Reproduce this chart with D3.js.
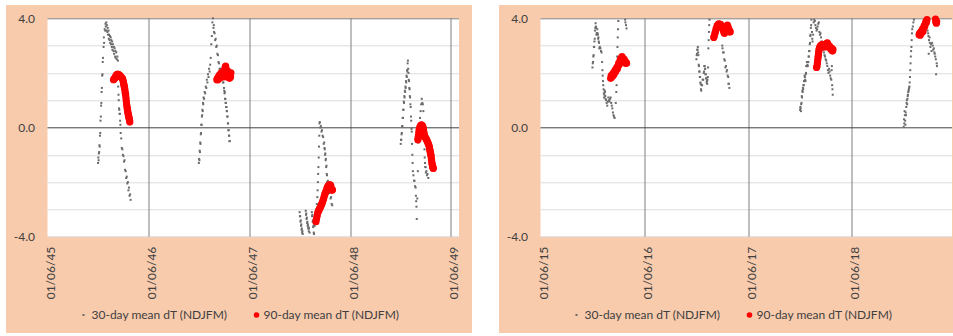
<!DOCTYPE html>
<html>
<head>
<meta charset="utf-8">
<script src="https://cdn.jsdelivr.net/npm/d3@7"></script>
<style>
  body { margin: 0; background: #fff; }
  svg text { font-family: Lato, "Open Sans", sans-serif; }
</style>
</head>
<body>
<div id="chart"></div>
<script>
// ---- data: [days after 1 Nov of the winter, dT] ----
const mean30_1945 = [[30,-1.3],[31,-1.1],[32,-1.2],[33,-0.95],[34,-0.9],[35,-0.65],[36,-0.7],[37,-0.3],[38,-0.2],[39,0.25],[40,0.4],[41,0.8],[42,0.9],[43,1.3],[44,1.45],[45,1.9],[46,1.95],[47,2.4],[48,2.55],[50,2.95],[51,3.3],[52,3.1],[54,3.6],[56,3.55],[57,3.8],[58,3.7],[60,3.85],[61,3.55],[62,3.75],[64,3.5],[65,3.65],[66,3.4],[68,3.55],[69,3.25],[70,3.4],[72,3.2],[73,3.35],[74,3.1],[76,3.3],[77,3.05],[78,3.2],[80,2.95],[81,3.15],[82,2.85],[84,3.05],[86,2.8],[87,2.95],[88,2.7],[90,2.9],[92,2.6],[93,2.8],[94,2.55],[96,2.75],[98,2.5],[100,2.6],[102,2.45],[103,1.5],[104,1.2],[105,1.0],[106,0.7],[107,0.65],[108,0.5],[109,0.5],[110,0.25],[111,0.1],[112,-0.2],[114,-0.4],[116,-0.75],[118,-0.8],[120,-1.0],[122,-1.05],[124,-1.25],[126,-1.2],[128,-1.55],[130,-1.6],[132,-1.85],[134,-1.8],[136,-2.05],[138,-2.0],[140,-2.3],[142,-2.2],[144,-2.5],[146,-2.45],[148,-2.65]];
const mean90_1945 = [[86,1.75],[88,1.78],[90,1.8],[91,1.8],[93,1.85],[95,1.9],[97,1.92],[99,1.95],[101,1.95],[103,1.95],[105,1.93],[107,1.92],[109,1.9],[111,1.88],[113,1.85],[115,1.83],[117,1.8],[119,1.78],[121,1.7],[122,1.65],[123,1.6],[124,1.55],[125,1.5],[126,1.45],[127,1.4],[128,1.3],[129,1.25],[130,1.2],[131,1.1],[132,1.0],[133,0.9],[134,0.82],[135,0.75],[136,0.68],[137,0.62],[138,0.56],[139,0.5],[140,0.45],[141,0.4],[142,0.36],[143,0.32],[144,0.26],[145,0.2]];

const mean30_1946 = [[30,-1.3],[31,-1.15],[32,-1.2],[33,-0.85],[34,-0.9],[35,-0.55],[36,-0.6],[37,-0.25],[38,-0.2],[39,0.1],[40,0.1],[41,0.4],[42,0.45],[43,0.65],[44,0.6],[45,0.9],[46,0.85],[47,1.1],[49,1.05],[51,1.3],[53,1.25],[55,1.5],[57,1.45],[59,1.75],[61,1.65],[63,1.95],[65,1.85],[67,2.15],[69,2.05],[71,2.3],[73,2.55],[75,3.05],[77,3.35],[79,3.85],[81,4.0],[83,3.65],[84,3.75],[85,3.5],[87,3.45],[89,3.2],[91,3.25],[93,2.95],[95,3.0],[97,2.7],[99,2.65],[101,2.4],[103,2.35],[105,2.15],[107,2.15],[109,1.95],[111,2.0],[113,1.85],[115,1.9],[117,1.65],[119,1.65],[121,1.45],[122,1.35],[123,1.25],[124,1.3],[125,1.05],[126,1.05],[127,0.9],[128,0.9],[129,0.75],[130,0.75],[131,0.6],[132,0.6],[133,0.4],[134,0.4],[135,0.15],[136,0.15],[137,-0.1],[138,-0.1],[139,-0.3],[140,-0.3],[141,-0.5],[142,-0.5]];
const mean90_1946 = [[95,1.75],[97,1.8],[99,1.75],[101,1.85],[103,1.9],[105,1.8],[107,1.95],[109,1.85],[111,2.0],[113,1.9],[115,1.95],[117,1.85],[119,2.05],[121,2.0],[123,2.1],[125,2.2],[127,2.25],[129,2.15],[131,2.0],[133,1.85],[135,1.95],[137,2.05],[139,1.9],[141,1.8],[143,1.95],[145,1.85],[146,2.0]];

const mean30_1947 = [[30,-3.1],[31,-3.25],[32,-3.25],[33,-3.45],[34,-3.4],[35,-3.6],[36,-3.55],[37,-3.75],[38,-3.7],[39,-3.85],[40,-3.8],[41,-3.9],[52,-3.05],[53,-3.2],[54,-3.15],[55,-3.35],[56,-3.3],[57,-3.5],[58,-3.45],[59,-3.6],[60,-3.55],[61,-3.7],[62,-3.65],[63,-3.8],[64,-3.7],[66,-3.85],[74,-3.1],[75,-3.25],[76,-3.2],[77,-3.45],[78,-3.4],[79,-3.65],[80,-3.6],[81,-3.85],[82,-3.9],[84,-3.6],[86,-3.4],[88,-3.2],[90,-3.0],[92,-2.8],[94,-2.55],[95,-2.3],[96,-2.0],[97,-1.7],[98,-1.45],[99,-1.1],[100,-0.7],[101,-0.3],[102,0.15],[103,0.2],[105,0.0],[107,0.05],[109,-0.15],[111,-0.1],[113,-0.3],[115,-0.35],[117,-0.6],[119,-0.55],[120,-0.75],[121,-0.8],[122,-1.0],[123,-0.95],[124,-1.2],[125,-1.15],[126,-1.45],[127,-1.4],[128,-1.7],[129,-1.75],[130,-2.0],[132,-1.95],[134,-2.2],[136,-2.15],[138,-2.4],[140,-2.35],[142,-2.6],[144,-2.55],[146,-2.8],[148,-2.85]];
const mean90_1947 = [[89,-3.45],[91,-3.35],[93,-3.25],[95,-3.15],[97,-3.08],[99,-3.05],[101,-3.0],[103,-2.95],[105,-2.92],[107,-2.88],[109,-2.82],[111,-2.78],[113,-2.72],[115,-2.66],[117,-2.6],[119,-2.52],[121,-2.45],[123,-2.4],[125,-2.35],[127,-2.3],[129,-2.22],[131,-2.18],[133,-2.15],[135,-2.12],[137,-2.1],[139,-2.12],[141,-2.1],[143,-2.15],[145,-2.25],[147,-2.3],[149,-2.28]];

const mean30_1948 = [[30,-0.6],[31,-0.45],[32,-0.45],[33,-0.25],[34,-0.2],[35,0.05],[36,0.05],[37,0.35],[38,0.35],[39,0.65],[40,0.65],[41,0.95],[42,0.9],[43,1.15],[44,1.1],[45,1.35],[46,1.3],[47,1.5],[48,1.45],[49,1.7],[50,1.65],[51,1.9],[52,1.85],[53,2.1],[54,2.05],[55,2.35],[56,2.45],[57,2.15],[58,2.0],[59,1.75],[60,1.7],[61,1.45],[62,1.4],[63,1.15],[64,1.1],[65,0.85],[66,0.75],[67,0.4],[68,0.25],[69,-0.05],[70,-0.15],[71,-0.6],[72,-1.0],[73,-1.3],[74,-1.6],[76,-1.75],[78,-1.95],[80,-1.95],[82,-2.15],[84,-2.2],[85,-2.5],[86,-2.7],[87,-2.9],[88,-3.35],[90,-2.6],[92,-1.6],[94,-0.55],[96,-0.2],[98,0.1],[100,0.35],[102,0.6],[104,0.85],[106,1.05],[108,0.9],[110,0.85],[112,0.6],[114,0.1],[115,-0.35],[116,-0.8],[117,-1.1],[118,-1.3],[119,-1.45],[120,-1.45],[121,-1.65],[123,-1.6],[125,-1.75],[127,-1.7],[130,-1.85]];
const mean90_1948 = [[92,-0.45],[93,-0.4],[94,-0.32],[95,-0.25],[96,-0.15],[97,-0.08],[99,0.0],[101,0.05],[103,0.08],[105,0.1],[107,0.08],[109,0.05],[111,0.0],[112,-0.05],[113,-0.12],[114,-0.2],[115,-0.25],[116,-0.3],[118,-0.35],[120,-0.38],[122,-0.42],[124,-0.46],[126,-0.5],[128,-0.55],[130,-0.6],[132,-0.65],[134,-0.72],[135,-0.8],[136,-0.85],[137,-0.9],[138,-0.95],[139,-1.0],[140,-1.05],[141,-1.15],[142,-1.22],[143,-1.3],[144,-1.35],[145,-1.4],[146,-1.45],[147,-1.48],[148,-1.5]];

const mean30_2015 = [[30,2.2],[31,2.35],[32,2.4],[33,2.6],[34,2.65],[35,2.95],[36,2.95],[37,3.15],[38,3.25],[39,3.55],[40,3.65],[41,3.82],[42,3.7],[43,3.65],[44,3.4],[45,3.45],[46,3.45],[47,3.6],[48,3.45],[49,3.4],[50,3.25],[51,3.3],[52,3.15],[53,3.1],[54,2.9],[56,2.95],[58,2.9],[60,2.8],[62,2.75],[64,2.4],[65,2.1],[66,1.9],[67,1.7],[68,1.55],[69,1.4],[70,1.25],[71,1.1],[72,1.2],[73,1.35],[74,1.3],[75,1.15],[76,1.05],[78,1.0],[80,0.9],[82,0.8],[84,0.95],[86,1.1],[88,1.0],[90,0.95],[92,1.05],[94,1.1],[96,0.9],[98,0.8],[100,0.7],[102,0.55],[104,0.45],[106,0.4],[108,0.35],[112,0.9],[114,1.3],[115,1.55],[116,2.0],[117,2.6],[118,2.95],[119,3.3],[120,3.6],[121,3.9],[145,3.95],[146,3.85],[148,3.75],[150,3.63]];
const mean90_2015 = [[94,1.8],[96,1.9],[98,1.85],[100,1.95],[102,1.9],[104,2.0],[106,1.95],[108,2.05],[110,2.1],[112,2.05],[114,2.15],[116,2.2],[118,2.15],[120,2.25],[122,2.35],[124,2.3],[126,2.4],[128,2.5],[130,2.45],[132,2.55],[134,2.6],[136,2.55],[138,2.5],[140,2.45],[142,2.5],[144,2.4],[146,2.35],[148,2.4],[150,2.35]];

const mean30_2016 = [[30,2.5],[31,2.65],[32,2.7],[33,2.85],[34,2.85],[35,2.95],[36,2.75],[37,2.65],[38,2.3],[39,2.25],[40,2.05],[41,2.05],[42,1.85],[43,1.85],[44,1.65],[45,1.6],[46,1.4],[47,1.35],[48,1.55],[50,1.55],[52,1.75],[54,1.75],[56,2.0],[57,2.05],[58,2.25],[59,2.25],[60,2.15],[61,2.15],[62,1.95],[63,1.95],[64,1.8],[65,1.8],[66,1.65],[67,1.7],[68,1.6],[69,1.75],[70,1.85],[71,2.2],[72,2.9],[73,3.2],[74,3.5],[75,3.75],[76,3.95],[120,3.8],[121,3.0],[122,2.9],[124,2.75],[126,2.75],[128,2.5],[130,2.45],[132,2.2],[134,2.25],[136,2.05],[138,2.1],[140,1.9],[142,1.85],[143,1.6],[144,1.6],[146,1.45]];
const mean90_2016 = [[91,3.3],[93,3.35],[95,3.45],[97,3.5],[99,3.6],[101,3.65],[103,3.72],[105,3.75],[107,3.78],[109,3.8],[111,3.78],[113,3.75],[115,3.78],[117,3.72],[119,3.68],[121,3.65],[123,3.6],[125,3.55],[127,3.48],[129,3.45],[131,3.52],[133,3.58],[135,3.62],[137,3.7],[139,3.75],[141,3.7],[143,3.62],[145,3.5],[147,3.55],[149,3.5]];

const mean30_2017 = [[30,0.65],[31,0.75],[32,0.7],[33,0.6],[34,0.85],[35,0.9],[36,1.15],[37,1.1],[38,1.35],[39,1.3],[40,1.45],[41,1.4],[42,1.55],[43,1.55],[44,1.7],[45,1.7],[46,1.9],[47,1.85],[48,1.75],[49,1.7],[50,1.95],[51,2.0],[52,2.25],[53,2.25],[54,2.4],[55,2.25],[56,2.3],[57,2.25],[58,2.4],[59,2.4],[60,2.6],[61,2.6],[62,2.8],[63,2.8],[64,3.05],[65,3.1],[66,3.35],[67,3.4],[68,3.65],[69,3.75],[70,3.95],[72,3.5],[73,3.25],[74,3.15],[76,3.4],[78,3.85],[80,3.95],[82,3.9],[84,3.75],[86,3.65],[88,3.55],[90,3.6],[92,3.7],[94,3.8],[96,3.85],[98,3.5],[100,3.4],[102,3.45],[104,3.3],[106,3.15],[108,3.0],[110,2.9],[112,2.85],[114,2.75],[116,2.65],[118,2.6],[120,2.5],[122,2.45],[124,2.35],[126,2.25],[128,2.1],[130,2.0],[132,2.15],[134,2.05],[136,1.9],[138,1.8],[140,1.75],[141,2.1],[142,2.25],[143,1.55],[144,1.4],[145,1.2]];
const mean90_2017 = [[88,2.2],[90,2.25],[91,2.35],[92,2.45],[93,2.55],[94,2.62],[95,2.7],[96,2.78],[97,2.85],[98,2.9],[100,2.95],[102,3.0],[104,2.95],[106,3.02],[108,3.05],[110,3.0],[112,2.95],[114,2.98],[116,3.02],[118,3.0],[120,2.95],[122,3.02],[124,3.08],[126,3.1],[128,3.05],[130,3.0],[132,2.95],[134,2.98],[136,2.92],[138,2.88],[140,2.85],[142,2.9],[144,2.8],[146,2.85]];

const mean30_2018 = [[30,0.03],[31,0.3],[32,0.15],[33,0.6],[34,0.45],[35,0.25],[36,0.1],[37,0.55],[38,0.45],[39,0.75],[40,0.9],[41,1.0],[42,0.85],[43,1.05],[44,1.15],[45,1.2],[46,1.3],[47,1.35],[48,1.4],[49,1.45],[50,1.5],[51,1.65],[52,1.85],[53,2.1],[54,2.35],[55,2.6],[56,2.8],[57,2.95],[58,3.2],[59,3.45],[60,3.6],[62,3.7],[64,3.85],[66,3.95],[112,3.7],[114,3.55],[116,3.45],[117,3.35],[118,2.7],[119,3.2],[121,3.3],[122,3.1],[124,2.95],[126,3.05],[128,2.8],[130,3.1],[132,3.0],[134,2.85],[136,2.9],[138,2.75],[139,2.7],[141,2.6],[143,2.5],[144,1.95],[146,2.35],[147,2.25]];
const mean90_2018 = [[84,3.4],[86,3.45],[88,3.38],[90,3.5],[92,3.45],[94,3.55],[96,3.6],[98,3.52],[100,3.65],[102,3.72],[104,3.7],[106,3.8],[108,3.88],[110,3.85],[112,3.95],[142,3.97],[143,3.9],[144,3.85],[145,3.82],[146,3.88]];

const winterYearsLeft = [1945, 1946, 1947, 1948];
const winterYearsRight = [2015, 2016, 2017, 2018];
const mean30Left = [mean30_1945, mean30_1946, mean30_1947, mean30_1948];
const mean90Left = [mean90_1945, mean90_1946, mean90_1947, mean90_1948];
const mean30Right = [mean30_2015, mean30_2016, mean30_2017, mean30_2018];
const mean90Right = [mean90_2015, mean90_2016, mean90_2017, mean90_2018];

const tickYearsLeft = [1945, 1946, 1947, 1948, 1949];
const tickYearsRight = [2015, 2016, 2017, 2018];
const yLabelTicks = [-4, 0, 4];
const yMinorTicks = [-4, -3, -2, -1, 1, 2, 3];
const legendLabels = ['30-day mean dT (NDJFM)', '90-day mean dT (NDJFM)'];

// ---- layout ----
const panelW = 466, panelH = 328, panelTop = 5;
const plotLeft = 41.5, plotTop = 13.3, plotW = 411.5, plotH = 218.4;
const yDomain = [-4, 4];
const peach = '#F8CBAD';
const redDot = '#FF0000';
const grayDot = '#6b6b6b';

const svg = d3.select('#chart')
              .append('svg')
              .attr('width', 953)
              .attr('height', 336);

function toPoints(years, series) {
  const out = [];
  years.forEach((yr, i) => {
    const start = new Date(yr, 10, 1);
    series[i].forEach(d => out.push({date: d3.timeDay.offset(start, d[0]), value: d[1]}));
  });
  return out.filter(d => d.value >= yDomain[0] && d.value <= yDomain[1]);
}

function drawPanel(cfg) {
  const g = svg.append('g')
               .attr('transform', `translate(${cfg.left}, ${panelTop})`);
  g.append('rect')
   .attr('width', panelW)
   .attr('height', panelH)
   .attr('fill', peach);

  const plot = g.append('g')
                .attr('transform', `translate(${plotLeft}, ${plotTop})`);
  plot.append('rect')
      .attr('width', plotW)
      .attr('height', plotH)
      .attr('fill', '#fff');

  const x = d3.scaleTime()
              .domain(cfg.domain)
              .range([0, plotW]);
  const y = d3.scaleLinear()
              .domain(yDomain)
              .range([plotH, 0]);
  const tickDates = cfg.ticks.map(yr => new Date(yr, 5, 1));

  // light horizontal gridlines
  plot.append('g')
      .selectAll('line')
      .data(yMinorTicks)
      .enter()
      .append('line')
      .attr('x1', 0)
      .attr('x2', plotW)
      .attr('y1', d => Math.round(y(d)) + 0.5)
      .attr('y2', d => Math.round(y(d)) + 0.5)
      .attr('stroke', '#dcdcdc')
      .attr('stroke-width', 1);

  // dark vertical gridlines at each 1 June
  plot.append('g')
      .selectAll('line')
      .data(tickDates.slice(1))
      .enter()
      .append('line')
      .attr('x1', d => Math.round(x(d)) + 0.5)
      .attr('x2', d => Math.round(x(d)) + 0.5)
      .attr('y1', 0)
      .attr('y2', plotH)
      .attr('stroke', '#7f7f7f')
      .attr('stroke-width', 1);

  // top line and zero line
  plot.append('line')
      .attr('x1', 0).attr('x2', plotW)
      .attr('y1', Math.round(y(4)) + 0.5).attr('y2', Math.round(y(4)) + 0.5)
      .attr('stroke', '#7f7f7f');
  plot.append('line')
      .attr('x1', 0).attr('x2', plotW)
      .attr('y1', Math.round(y(0)) + 0.5).attr('y2', Math.round(y(0)) + 0.5)
      .attr('stroke', '#404040');

  // y axis labels
  const yAxis = plot.append('g')
                    .call(d3.axisLeft(y)
                            .tickValues(yLabelTicks)
                            .tickFormat(d => d.toFixed(1))
                            .tickSize(0)
                            .tickPadding(12.5));
  yAxis.select('.domain').remove();
  yAxis.selectAll('text')
       .style('font-size', '12px')
       .attr('fill', '#404040');

  // x axis labels, rotated
  const xAxis = plot.append('g')
                    .attr('transform', `translate(0, ${plotH})`)
                    .call(d3.axisBottom(x)
                            .tickValues(tickDates)
                            .tickFormat(d3.timeFormat('%d/%m/%y'))
                            .tickSize(0));
  xAxis.select('.domain').remove();
  xAxis.selectAll('text')
       .style('font-size', '12px')
       .attr('fill', '#404040')
       .attr('text-anchor', 'end')
       .attr('x', -10)
       .attr('y', 0)
       .attr('dy', '0.58em')
       .attr('transform', 'rotate(-90)');

  // 30-day points
  plot.append('g')
      .selectAll('rect')
      .data(toPoints(cfg.years, cfg.mean30))
      .enter()
      .append('rect')
      .attr('x', d => x(d.date) - 1)
      .attr('y', d => y(d.value) - 1)
      .attr('width', 2)
      .attr('height', 2)
      .attr('fill', grayDot);

  // 90-day points
  plot.append('g')
      .selectAll('circle')
      .data(toPoints(cfg.years, cfg.mean90))
      .enter()
      .append('circle')
      .attr('cx', d => x(d.date))
      .attr('cy', d => y(d.value))
      .attr('r', 3.6)
      .attr('fill', redDot);

  // legend
  const leg = g.append('g')
               .attr('transform', `translate(0, ${310})`);
  leg.append('rect')
     .attr('x', 76.5).attr('y', -1)
     .attr('width', 2).attr('height', 2)
     .attr('fill', grayDot);
  leg.append('circle')
     .attr('cx', 250.5).attr('cy', 0)
     .attr('r', 2.8)
     .attr('fill', redDot);
  leg.selectAll('text')
     .data(legendLabels)
     .enter()
     .append('text')
     .attr('x', (d, i) => i === 0 ? 85.5 : 257.5)
     .attr('y', 0)
     .attr('dy', '0.35em')
     .style('font-size', '12px')
     .attr('fill', '#404040')
     .text(d => d);
}

drawPanel({
  left: 6,
  domain: [new Date(1945, 5, 1), new Date(1949, 5, 30)],
  ticks: tickYearsLeft,
  years: winterYearsLeft,
  mean30: mean30Left,
  mean90: mean90Left
});

drawPanel({
  left: 499,
  domain: [new Date(2015, 5, 1), new Date(2019, 4, 20)],
  ticks: tickYearsRight,
  years: winterYearsRight,
  mean30: mean30Right,
  mean90: mean90Right
});
</script>
</body>
</html>
